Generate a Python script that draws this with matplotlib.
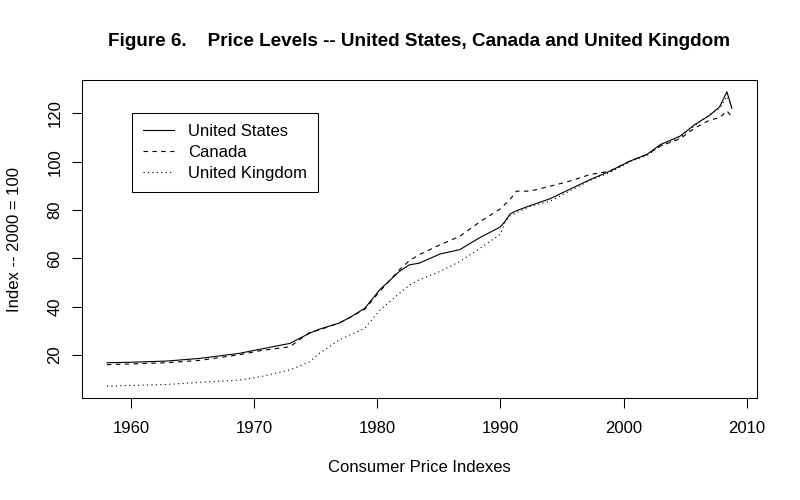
import matplotlib
matplotlib.use("Agg")
import matplotlib.pyplot as plt

# values (index, 2000 = 100)
years = [1958.05, 1960.0, 1962.9, 1965.6, 1968.8, 1970.5, 1972.9, 1974.5, 1975.3,
         1976.9, 1977.8, 1979.0, 1980.2, 1981.8, 1982.6, 1983.4, 1985.1, 1986.7,
         1988.3, 1990.0, 1990.4, 1990.8, 1991.3, 1992.4, 1994.0, 1995.6, 1997.3,
         1998.9, 2000.5, 2001.9, 2003.0, 2004.6, 2005.8, 2007.0, 2007.8, 2008.4,
         2008.8]

us = [16.8, 17.0, 17.5, 18.6, 20.7, 22.4, 24.8, 29.0, 30.7,
      33.2, 35.6, 39.4, 47.0, 54.6, 57.3, 58.0, 61.8, 63.6,
      68.5, 73.0, 75.5, 78.4, 79.7, 81.8, 84.6, 88.5, 92.6,
      96.1, 100.2, 103.0, 107.1, 110.6, 115.4, 119.2, 122.7, 128.9,
      122.0]

canada = [16.0, 16.3, 16.8, 17.8, 20.1, 21.8, 23.4, 29.3, 30.4,
          33.2, 35.6, 39.0, 46.3, 55.3, 59.0, 61.5, 65.6, 69.1,
          75.0, 80.5, 82.5, 84.5, 87.8, 87.8, 89.8, 91.9, 94.7,
          96.1, 100.2, 103.0, 106.5, 109.5, 114.0, 117.2, 118.2, 121.0,
          118.5]

uk = [7.1, 7.4, 7.8, 8.7, 9.6, 11.0, 13.8, 17.2, 20.7,
      26.2, 28.3, 31.1, 38.5, 45.5, 48.9, 51.1, 54.6, 58.7,
      64.0, 70.0, 75.3, 77.7, 78.8, 81.5, 83.6, 87.8, 92.3,
      95.5, 100.0, 102.5, 106.5, 110.0, 115.0, 119.5, 122.0, 127.0,
      123.0]

x_ticks = [1960, 1970, 1980, 1990, 2000, 2010]
y_ticks = [20, 40, 60, 80, 100, 120]

plt.rcParams["font.family"] = ["Liberation Sans", "DejaVu Sans"]

fig = plt.figure(figsize=(8, 5), dpi=100)
ax = fig.add_axes([82 / 800, 102 / 500, 675 / 800, 318 / 500])

lw = 0.8
ax.plot(years, us, color="black", lw=lw, linestyle="-", label="United States")
ax.plot(years, canada, color="black", lw=lw, linestyle=(0, (4, 4)), label="Canada")
ax.plot(years, uk, color="black", lw=lw, linestyle=(0, (1, 3)), label="United Kingdom")

ax.set_xlim(1956.02, 2010.84)
ax.set_ylim(2.21, 133.8)
ax.set_xticks(x_ticks)
ax.set_yticks(y_ticks)

for s in ax.spines.values():
    s.set_linewidth(0.75)

ax.tick_params(axis="both", length=7.2, width=0.75, labelsize=12)
ax.tick_params(axis="x", pad=9.5)
ax.tick_params(axis="y", pad=7)
for lab in ax.get_yticklabels():
    lab.set_rotation(90)
    lab.set_va("center")

leg = ax.legend(loc="upper left", bbox_to_anchor=(0.074, 0.896), fontsize=12,
                frameon=True, fancybox=False, edgecolor="black", framealpha=1,
                borderaxespad=0, handlelength=1.9, handletextpad=0.8,
                borderpad=0.65, labelspacing=0.36)
leg.get_frame().set_linewidth(0.75)

fig.text(419 / 800, 1 - 42 / 500,
         "Figure 6.    Price Levels -- United States, Canada and United Kingdom",
         ha="center", va="center", fontsize=13.6, fontweight="bold")
fig.text(419 / 800, 1 - 468 / 500, "Consumer Price Indexes",
         ha="center", va="center", fontsize=12)
fig.text(15 / 800, 1 - 239 / 500, "Index -- 2000 = 100",
         ha="center", va="center", rotation=90, fontsize=12)

fig.savefig("out.png", dpi=100)
